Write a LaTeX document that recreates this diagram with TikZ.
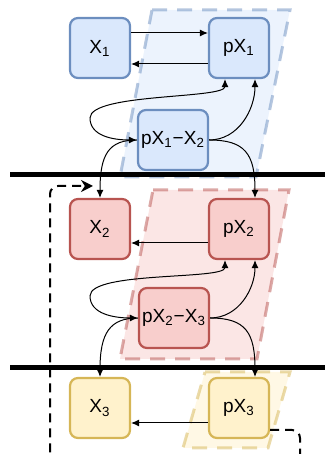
\documentclass[tikz,border=0pt]{standalone}
\usepackage{fontspec}
\setmainfont{Liberation Sans}
\usetikzlibrary{arrows.meta}

\definecolor{boxfill1}{HTML}{DAE8FC}
\definecolor{boxline1}{HTML}{6C8EBF}
\definecolor{boxfill2}{HTML}{F8CECC}
\definecolor{boxline2}{HTML}{B85450}
\definecolor{boxfill3}{HTML}{FFF2CC}
\definecolor{boxline3}{HTML}{D6B656}

\begin{document}
\begin{tikzpicture}[x=0.5pt,y=0.5pt,
    box/.style={draw, line width=1.1pt, rounded corners=4pt, minimum width=30pt,
      minimum height=30pt, inner sep=1pt, font=\fontsize{9.5}{11}\selectfont},
    link/.style={-{Latex[length=4pt,width=3.5pt]}, line width=0.5pt},
    both/.style={{Latex[length=4pt,width=3.5pt]}-{Latex[length=4pt,width=3.5pt]}, line width=0.5pt},
    band/.style={line width=1.5pt, dash pattern=on 7.5pt off 5pt, fill opacity=0.5, draw opacity=0.5},
    sep/.style={line width=2.5pt},
    back/.style={line width=1pt, dash pattern=on 4.5pt off 3pt, rounded corners=4pt,
      -{Stealth[length=6pt,width=6pt]}}]
  \useasboundingbox (0,0) rectangle (325,454);
  \clip (0,0) rectangle (325,454);
  \def \lo {-7pt} % left foot of the pX boxes
  \def \ro {8pt}  % right foot of the pX boxes

  % shaded bands
  \filldraw[band, draw=boxline1, fill=boxfill1] (152,444) -- (290,444) -- (256,277) -- (120,277) -- cycle;
  \filldraw[band, draw=boxline2, fill=boxfill2] (153,264) -- (289,264) -- (257,95) -- (120,95) -- cycle;
  \filldraw[band, draw=boxline3, fill=boxfill3] (205,82) -- (290,82) -- (268,6) -- (183,6) -- cycle;

  % separators
  \draw[sep] (10,279) -- (325,279);
  \draw[sep] (10,86) -- (325,86);

  % boxes
  \foreach \i/\y in {1/406,2/225,3/46}
  {
    \node[box, draw=boxline\i, fill=boxfill\i] (x\i) at (100,\y) {X\textsubscript{\i}};
    \node[box, draw=boxline\i, fill=boxfill\i] (px\i) at (239,\y) {pX\textsubscript{\i}};
  }
  \node[box, draw=boxline1, fill=boxfill1, minimum width=35pt] (p12) at (173,314)
    {pX\textsubscript{1}−X\textsubscript{2}};
  \node[box, draw=boxline2, fill=boxfill2, minimum width=35pt] (p23) at (174,136)
    {pX\textsubscript{2}−X\textsubscript{3}};
  \coordinate (l1) at (90,336);
  \coordinate (l2) at (90,158);
  \coordinate (t2) at (93,268);

  % top level
  \draw[link] ([yshift=7.5pt]x1.east) -- ([yshift=7.5pt]px1.west);
  \draw[link] ([yshift=-8pt]px1.west) -- ([yshift=-8pt]x1.east);
  \draw[both] ([xshift=\lo]px1.south) to[out=-90,in=90,out distance=10pt,in distance=12.5pt] (l1)
    to[out=-90,in=180,out distance=9pt,in distance=12pt] (p12.west);
  \draw[link] (p12.east) to[out=0,in=-90] ([xshift=\ro]px1.south);
  \draw[link] (p12.west) to[out=180,in=90,out distance=14pt,in distance=22pt] (x2.north);
  \draw[link] (p12.east) to[out=0,in=90,out distance=18pt,in distance=22pt] ([xshift=\ro]px2.north);

  % middle level
  \draw[link] ([yshift=-7pt]px2.west) -- ([yshift=-7pt]x2.east);
  \draw[both] ([xshift=\lo]px2.south) to[out=-90,in=90,out distance=10pt,in distance=12.5pt] (l2)
    to[out=-90,in=180,out distance=9pt,in distance=12pt] (p23.west);
  \draw[link] (p23.east) to[out=0,in=-90] ([xshift=\ro]px2.south);
  \draw[link] (p23.west) to[out=180,in=90,out distance=14pt,in distance=22pt] (x3.north);
  \draw[link] (p23.east) to[out=0,in=90,out distance=18pt,in distance=22pt] ([xshift=\ro]px3.north);

  % bottom level
  \draw[link] ([yshift=-7.5pt]px3.west) -- ([yshift=-7.5pt]x3.east);
  \draw[back] ([yshift=-11pt]px3.east) -- (300,24) -- (300,-10) -- (50,-10) -- (50,268) -- (t2);
\end{tikzpicture}
\end{document}
